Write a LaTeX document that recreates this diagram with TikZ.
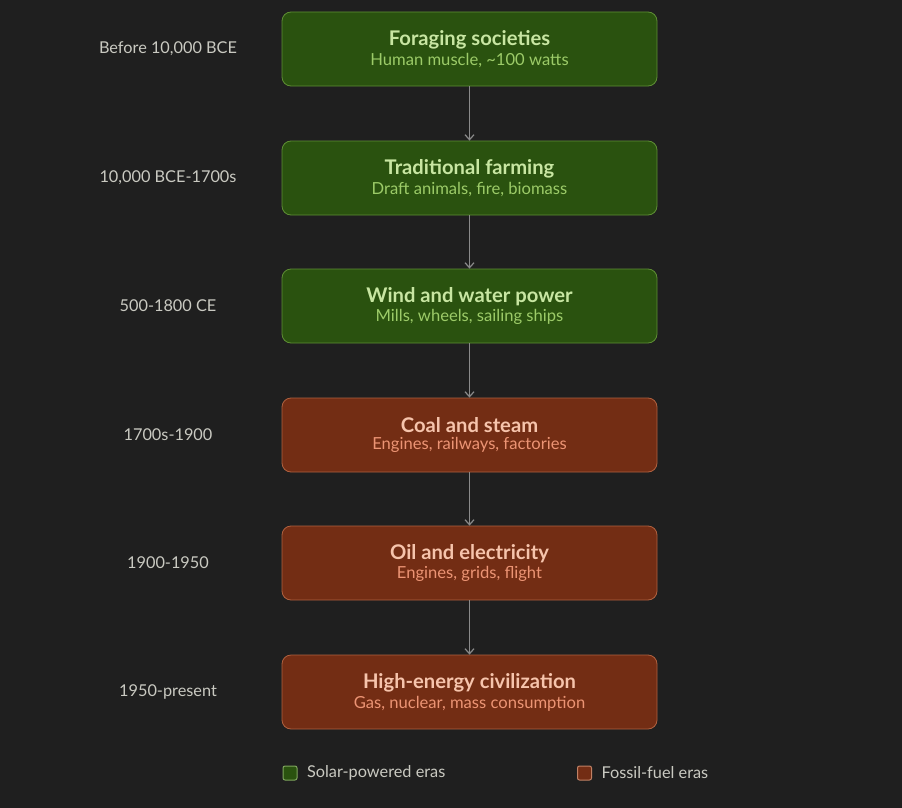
\documentclass[tikz,border=0pt]{standalone}
\usepackage{fontspec}
\setmainfont{Lato}
\usetikzlibrary{arrows.meta}
\definecolor{bg}{HTML}{1F1F1F}
\definecolor{gfill}{HTML}{2A520F}
\definecolor{gline}{HTML}{5E8E34}
\definecolor{gtitle}{HTML}{C8E6A2}
\definecolor{gsub}{HTML}{9CCB68}
\definecolor{bfill}{HTML}{732D14}
\definecolor{bline}{HTML}{B0613F}
\definecolor{btitle}{HTML}{F6C4AC}
\definecolor{bsub}{HTML}{EC9474}
\definecolor{lab}{HTML}{C9C9C1}
\definecolor{arr}{HTML}{8A8A8A}
\begin{document}
\begin{tikzpicture}[x=1pt,y=-1pt,
 box/.style={draw,line width=0.8pt,rounded corners=9pt,minimum width=375pt,minimum height=74pt,align=center,inner sep=0pt},
 solar/.style={box,fill=gfill,draw=gline},
 fossil/.style={box,fill=bfill,draw=bline},
 era/.style={text=lab,font=\fontsize{16.3}{18}\selectfont},
 conn/.style={draw=arr,line width=1.2pt,-{Straight Barb[length=5pt,width=9pt]}},
 legsq/.style={minimum size=14pt,inner sep=0pt,rounded corners=2pt,line width=1pt}]
\fill[bg] (0,0) rectangle (902,808);
\node[solar] (n1) at (469.5,49) {{\fontsize{20.2}{22}\selectfont\bfseries\color{gtitle}Foraging societies}\\[3pt]{\fontsize{16.6}{19}\selectfont\color{gsub}Human muscle, \textasciitilde100 watts}};
\node[solar] (n2) at (469.5,178) {{\fontsize{20.2}{22}\selectfont\bfseries\color{gtitle}Traditional farming}\\[3pt]{\fontsize{16.6}{19}\selectfont\color{gsub}Draft animals, fire, biomass}};
\node[solar] (n3) at (469.5,306) {{\fontsize{20.2}{22}\selectfont\bfseries\color{gtitle}Wind and water power}\\[3pt]{\fontsize{16.6}{19}\selectfont\color{gsub}Mills, wheels, sailing ships}};
\node[fossil] (n4) at (469.5,435) {{\fontsize{20.2}{22}\selectfont\bfseries\color{btitle}Coal and steam}\\[3pt]{\fontsize{16.6}{19}\selectfont\color{bsub}Engines, railways, factories}};
\node[fossil] (n5) at (469.5,563) {{\fontsize{20.2}{22}\selectfont\bfseries\color{btitle}Oil and electricity}\\[3pt]{\fontsize{16.6}{19}\selectfont\color{bsub}Engines, grids, flight}};
\node[fossil] (n6) at (469.5,692) {{\fontsize{20.2}{22}\selectfont\bfseries\color{btitle}High-energy civilization}\\[3pt]{\fontsize{16.6}{19}\selectfont\color{bsub}Gas, nuclear, mass consumption}};
\node[era] (e1) at (168,49) {Before 10,000 BCE};
\node[era] (e2) at (168,178) {10,000 BCE-1700s};
\node[era] (e3) at (168,306) {500-1800 CE};
\node[era] (e4) at (168,435) {1700s-1900};
\node[era] (e5) at (168,563) {1900-1950};
\node[era] (e6) at (168,692) {1950-present};
\foreach \a/\b in {n1/n2,n2/n3,n3/n4,n4/n5,n5/n6} \draw[conn] (\a) -- (\b);
\node[legsq,fill=gfill,draw=gline!80!white] (l1) at (290,773) {};
\node[era,anchor=west] (t1) at (l1.east) [xshift=6pt] {Solar-powered eras};
\node[legsq,fill=bfill,draw=bline!80!white] (l2) at (584.5,773) {};
\node[era,anchor=west] (t2) at (l2.east) [xshift=6pt] {Fossil-fuel eras};
\end{tikzpicture}
\end{document}
